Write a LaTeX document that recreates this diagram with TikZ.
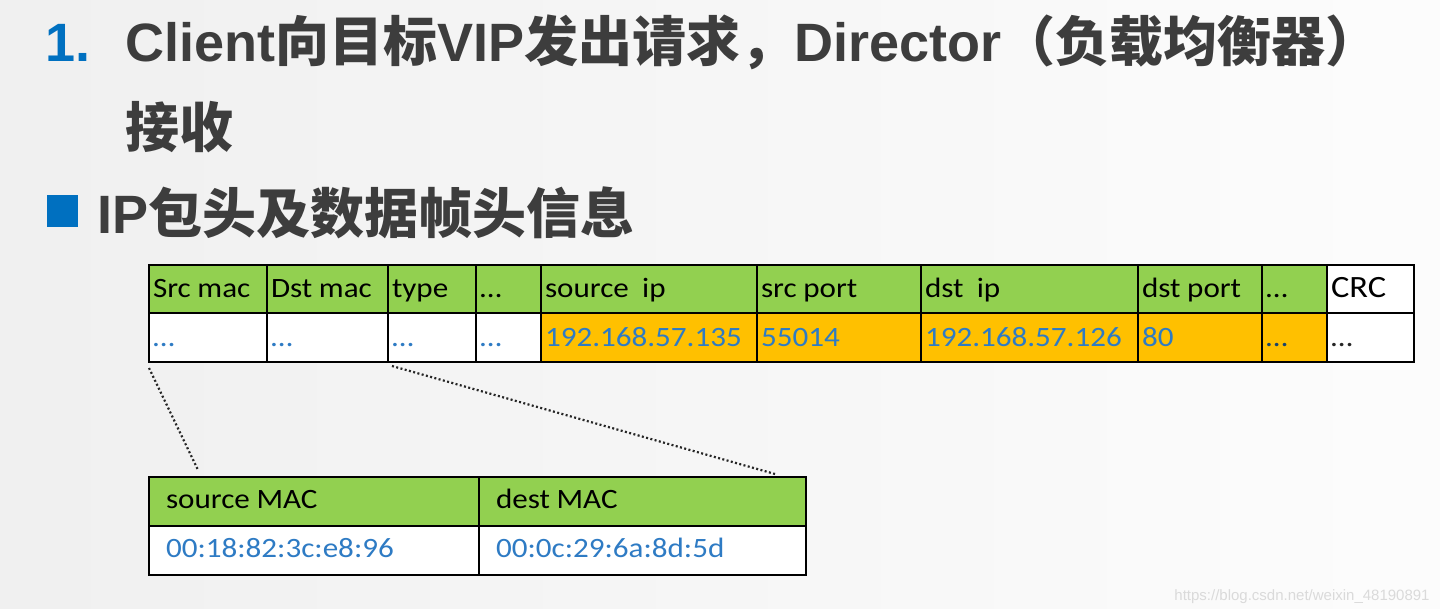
\documentclass[tikz,border=0pt]{standalone}
\usepackage{fontspec}
\setmainfont{Liberation Sans}
\newfontfamily\cjk{Noto Sans CJK SC}
\newfontfamily\lat{Liberation Sans}
\newfontfamily\cellf[FakeStretch=1.11]{Carlito}
\definecolor{ttl}{HTML}{3D3D3D}
\definecolor{obl}{HTML}{0070C0}
\definecolor{xgreen}{HTML}{92D050}
\definecolor{xorange}{HTML}{FFC000}
\definecolor{vblue}{HTML}{2E7BC4}
\definecolor{wmark}{HTML}{DADADA}
\newcommand\Lb[1]{{\lat\bfseries #1}}
\newcommand\Cb[1]{{\cjk\bfseries #1}}
\newcommand\hdtxt[1]{\cellf\fontsize{14}{16}\selectfont\rule[-4pt]{0pt}{17pt}#1}
\newcommand\vltxt[2][vblue]{\cellf\fontsize{14}{16}\selectfont\color{#1}\rule[-4pt]{0pt}{17pt}#2}
\newcommand\mhtxt[1]{\cellf\fontsize{14}{16}\selectfont\rule[-5.5pt]{0pt}{17.5pt}#1}
\newcommand\mvtxt[1]{\cellf\fontsize{14}{16}\selectfont\color{vblue}\rule[-5.5pt]{0pt}{17.5pt}#1}
% name, x, y, w, h, fill, pad(pt), text
\newcommand\cell[8]{%
  \pgfmathsetmacro\cw{#4*0.5-2*#7}%
  \pgfmathsetmacro\ch{#5*0.5}%
  \node[cellbox,fill=#6,inner xsep=#7pt,text width=\cw pt,minimum height=\ch pt] (#1) at (#2,#3) {#8};}
\begin{document}
\begin{tikzpicture}[x=0.5pt,y=-0.5pt,
  cellbox/.style={draw=black,line width=0.9pt,anchor=north west,inner ysep=0pt,outer sep=0pt,align=left},
  ttlfont/.style={text=ttl,font=\fontsize{27}{30}\selectfont,inner sep=0pt,anchor=base west},
  dotline/.style={draw=black!85,line width=1.1pt,dash pattern=on 1pt off 1.2pt}]
\useasboundingbox (0,0) rectangle (1440,609);
\shade[left color=black!6,right color=black!1] (0,0) rectangle (1440,609);

% title
\node[ttlfont,text=obl] (num) at (45,62) {\Lb{1.}};
\node[ttlfont] (t1) at (125,62) {\Lb{Client}\Cb{向目标}\Lb{VIP}\Cb{发出请求，}\Lb{Director}\Cb{（负载均衡器）}};
\node[ttlfont] (t2) at (125,148) {\Cb{接收}};
\node[fill=obl,minimum width=15.5pt,minimum height=16pt,inner sep=0pt,anchor=north west] (bul) at (47,195) {};
\node[ttlfont] (t3) at (97,234) {\Lb{IP}\Cb{包头及数据帧头信息}};

% top table header
\cell{c1h}{149}{265}{118}{48}{xgreen}{2}{\hdtxt{Src mac}}
\cell{c2h}{267}{265}{121}{48}{xgreen}{2}{\hdtxt{Dst mac}}
\cell{c3h}{388}{265}{88}{48}{xgreen}{2}{\hdtxt{type}}
\cell{c4h}{476}{265}{65}{48}{xgreen}{2}{\hdtxt{…}}
\cell{c5h}{541}{265}{216}{48}{xgreen}{2}{\hdtxt{source\ \ ip}}
\cell{c6h}{757}{265}{164}{48}{xgreen}{2}{\hdtxt{src port}}
\cell{c7h}{921}{265}{217}{48}{xgreen}{2}{\hdtxt{dst\ \ ip}}
\cell{c8h}{1138}{265}{124}{48}{xgreen}{2}{\hdtxt{dst port}}
\cell{c9h}{1262}{265}{65}{48}{xgreen}{2}{\hdtxt{…}}
\cell{c10h}{1327}{265}{87}{48}{white}{2}{\hdtxt{\fontsize{15.5}{16}\selectfont CRC}}
% top table values
\cell{c1b}{149}{313}{118}{49}{white}{2}{\vltxt{…}}
\cell{c2b}{267}{313}{121}{49}{white}{2}{\vltxt{…}}
\cell{c3b}{388}{313}{88}{49}{white}{2}{\vltxt{…}}
\cell{c4b}{476}{313}{65}{49}{white}{2}{\vltxt{…}}
\cell{c5b}{541}{313}{216}{49}{xorange}{2}{\vltxt{192.168.57.135}}
\cell{c6b}{757}{313}{164}{49}{xorange}{2}{\vltxt{55014}}
\cell{c7b}{921}{313}{217}{49}{xorange}{2}{\vltxt{192.168.57.126}}
\cell{c8b}{1138}{313}{124}{49}{xorange}{2}{\vltxt{80}}
\cell{c9b}{1262}{313}{65}{49}{xorange}{2}{\vltxt[vblue!55!black]{…}}
\cell{c10b}{1327}{313}{87}{49}{white}{2}{\vltxt[black!85]{…}}

% MAC table
\cell{m1h}{149}{477}{330}{49}{xgreen}{8.5}{\mhtxt{source MAC}}
\cell{m2h}{479}{477}{327}{49}{xgreen}{8.5}{\mhtxt{dest MAC}}
\cell{m1b}{149}{526}{330}{49}{white}{8.5}{\mvtxt{00:18:82:3c:e8:96}}
\cell{m2b}{479}{526}{327}{49}{white}{8.5}{\mvtxt{00:0c:29:6a:8d:5d}}

% dotted connectors
\coordinate (la) at ([shift={(0,6)}]c1b.south west);
\coordinate (lb) at ([shift={(49,-7)}]m1h.north west);
\coordinate (ra) at ([shift={(4,4)}]c3b.south west);
\coordinate (rb) at ([shift={(-31,-3)}]m2h.north east);
\draw[dotline] (la) -- (lb);
\draw[dotline] (ra) -- (rb);

% watermark
\node[text=wmark,font=\lat\fontsize{7.5}{9}\selectfont,inner sep=0pt,anchor=base east] (wm) at (1430,600) {https://blog.csdn.net/weixin\_48190891};
\end{tikzpicture}
\end{document}
